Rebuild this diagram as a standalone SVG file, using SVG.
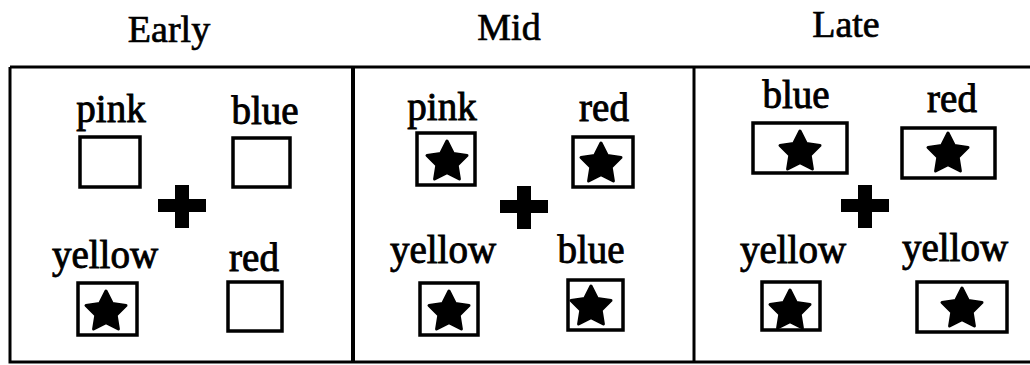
<svg xmlns="http://www.w3.org/2000/svg" xmlns:xlink="http://www.w3.org/1999/xlink" width="1030" height="365" viewBox="0 0 1030 365">
<style>
.t{font-family:"Liberation Serif","Times New Roman",serif;font-size:38px;fill:#000;stroke:#000;stroke-width:0.7;text-anchor:middle}
.l{font-family:"Liberation Serif","Times New Roman",serif;font-size:39px;fill:#000;stroke:#000;stroke-width:0.9;text-anchor:middle}
.box{fill:none;stroke:#000;stroke-width:3.5}
.frame{fill:none;stroke:#000;stroke-width:3}
</style>
<defs>
<path id="star" d="M0,-21 L6.3,-8.6 L20,-6.5 L10.2,3.3 L12.4,17 L0,10.6 L-12.4,17 L-10.2,3.3 L-20,-6.5 L-6.3,-8.6 Z" fill="#000" stroke="#000" stroke-width="3" stroke-linejoin="round"/>
<path id="plus" d="M-7,-21 H7 V-7 H24 V6 H7 V22 H-7 V6 H-24 V-7 H-7 Z" fill="#000"/>
</defs>
<rect width="1030" height="365" fill="#fff"/>
<g id="titles">
<text class="t" x="169" y="42">Early</text>
<text class="t" x="509" y="40">Mid</text>
<text class="t" x="846" y="37">Late</text>
</g>
<g id="frame">
<path class="frame" d="M10,67 H1032 M10,67 V362 H1032"/>
<line x1="353" y1="67" x2="353" y2="362" stroke="#000" stroke-width="4"/>
<line x1="694" y1="67" x2="694" y2="362" stroke="#000" stroke-width="3"/>
</g>
<g id="early">
<g id="early-pink"><text class="l" x="111" y="122">pink</text><rect class="box" x="80" y="137" width="60" height="50"/></g>
<g id="early-blue"><text class="l" x="265" y="124">blue</text><rect class="box" x="233" y="138" width="57" height="49"/></g>
<g id="early-plus"><use xlink:href="#plus" href="#plus" x="182" y="206"/></g>
<g id="early-yellow"><text class="l" x="105" y="268">yellow</text><rect class="box" x="78" y="283" width="59" height="52"/><use href="#star" xlink:href="#star" x="106" y="312"/></g>
<g id="early-red"><text class="l" x="254" y="271">red</text><rect class="box" x="228" y="282" width="54" height="49"/></g>
</g>
<g id="mid">
<g id="mid-pink"><text class="l" x="442" y="120">pink</text><rect class="box" x="417" y="133" width="58" height="52"/><use href="#star" xlink:href="#star" x="447" y="162"/></g>
<g id="mid-red"><text class="l" x="604" y="121">red</text><rect class="box" x="573" y="137" width="60" height="50"/><use href="#star" xlink:href="#star" x="601" y="164"/></g>
<g id="mid-plus"><use xlink:href="#plus" href="#plus" x="524" y="207"/></g>
<g id="mid-yellow"><text class="l" x="443" y="263">yellow</text><rect class="box" x="420" y="283" width="58" height="52"/><use href="#star" xlink:href="#star" x="449" y="312"/></g>
<g id="mid-blue"><text class="l" x="591" y="263">blue</text><rect class="box" x="568" y="280" width="55" height="50"/><use href="#star" xlink:href="#star" x="591" y="307"/></g>
</g>
<g id="late">
<g id="late-blue"><text class="l" x="796" y="108">blue</text><rect class="box" x="753" y="123" width="94" height="50"/><use href="#star" xlink:href="#star" x="800" y="152"/></g>
<g id="late-red"><text class="l" x="952" y="112">red</text><rect class="box" x="902" y="128" width="93" height="50"/><use href="#star" xlink:href="#star" x="948" y="154"/></g>
<g id="late-plus"><use xlink:href="#plus" href="#plus" x="865" y="206"/></g>
<g id="late-yellow-1"><text class="l" x="793" y="263">yellow</text><rect class="box" x="762" y="282" width="58" height="48"/><use href="#star" xlink:href="#star" x="790" y="311"/></g>
<g id="late-yellow-2"><text class="l" x="955" y="261">yellow</text><rect class="box" x="917" y="282" width="90" height="50"/><use href="#star" xlink:href="#star" x="962" y="309"/></g>
</g>
</svg>
